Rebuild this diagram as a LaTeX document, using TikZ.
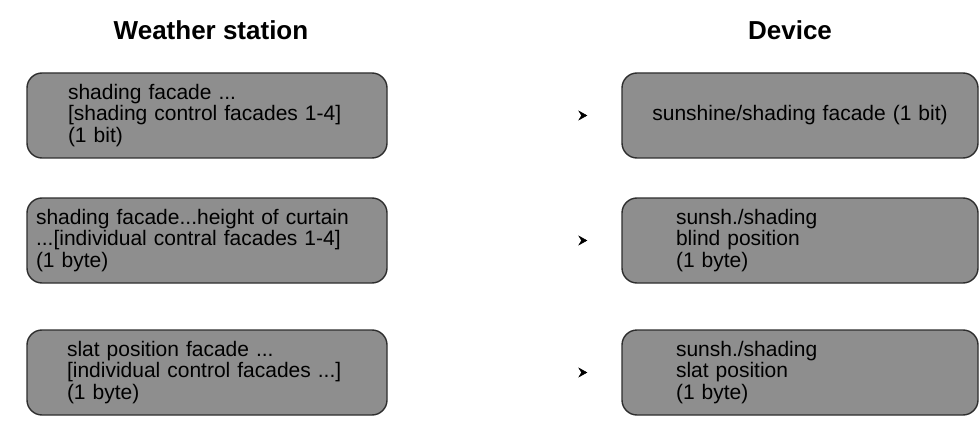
\documentclass[tikz,border=0pt]{standalone}
\usepackage{fontspec}
\setmainfont{Liberation Sans}
\usetikzlibrary{arrows.meta, positioning}
\definecolor{boxgrau}{HTML}{8E8E8E}
\definecolor{rand}{HTML}{2E2E2E}

\begin{document}
\begin{tikzpicture}[
        x=1pt, y=-1pt,
        titel/.style={font=\fontsize{26}{30}\selectfont\bfseries},
        feld/.style={draw=rand, line width=1.4pt, fill=boxgrau,
          rounded corners=15pt, minimum height=85pt, align=left,
          font=\fontsize{21}{21.5}\selectfont, inner ysep=0pt},
        links/.style={feld, minimum width=360pt},
        rechts/.style={feld, minimum width=356pt},
        link/.style={draw=white, -{Stealth[black, length=9pt, width=10pt, inset=3pt]},
          shorten >=34pt},
      ]
      \useasboundingbox (0,0) rectangle (980,441);

      % Spaltenkoepfe
      \node[titel] (kopfW) at (211,30) {Weather station};
      \node[titel] (kopfD) at (790,30) {Device};

      % Wetterstation
      \node[links, inner xsep=41pt, text width=278pt] (w1) at (207,115.5)
        {shading facade ...\\{[}shading control facades 1-4]\\(1 bit)};
      \node[links, inner xsep=9pt, text width=342pt] (w2) at (207,240.5)
        {shading facade...height of curtain\\...[individual contral facades 1-4]\\(1 byte)};
      \node[links, inner xsep=40pt, text width=280pt] (w3) at (207,372.5)
        {slat position facade ...\\{[}individual control facades ...]\\(1 byte)};

      % Geraet
      \node[rechts, align=center, text width=330pt] (d1) at (800,115.5)
        {sunshine/shading facade (1 bit)};
      \node[rechts, inner xsep=54pt, text width=248pt] (d2) at (800,240.5)
        {sunsh./shading\\blind position\\(1 byte)};
      \node[rechts, inner xsep=54pt, text width=248pt] (d3) at (800,372.5)
        {sunsh./shading\\slat position\\(1 byte)};

      \foreach \i in {1,2,3}
        \draw[link] (w\i) -- (d\i);
    \end{tikzpicture}
\end{document}
